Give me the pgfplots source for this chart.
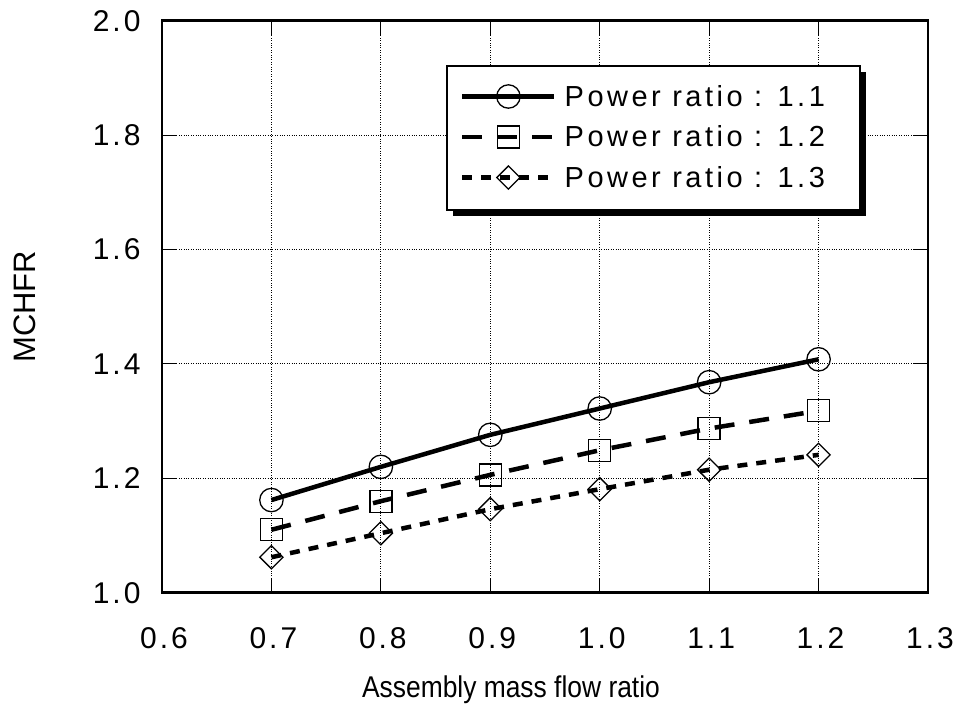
\documentclass[border=0pt]{standalone}
\usepackage{fontspec}
\setmainfont{Liberation Sans}
\newfontfamily\tickfont[LetterSpace=10]{Liberation Sans}
\newfontfamily\legfont[LetterSpace=12]{Liberation Sans}
\newfontfamily\narrowfont[FakeStretch=0.88]{Liberation Sans}
\usepackage{pgfplots}
\pgfplotsset{compat=1.18}
\begin{document}
\begin{tikzpicture}[x=1pt,y=1pt]
\useasboundingbox (-162,-121.3) rectangle (801,592.7);
\begin{axis}[
  at={(0,0)}, anchor=south west,
  scale only axis, width=766pt, height=572pt,
  xmin=0.6, xmax=1.3, ymin=1.0, ymax=2.0,
  xtick={0.6,0.7,0.8,0.9,1.0,1.1,1.2,1.3},
  ytick={1.0,1.2,1.4,1.6,1.8,2.0},
  xticklabels={0.6,0.7,0.8,0.9,1.0,1.1,1.2,1.3},
  yticklabels={1.0,1.2,1.4,1.6,1.8,2.0},
  grid=major,
  major grid style={black, dotted, line width=0.9pt},
  axis line style={line width=2.5pt},
  tick align=inside, major tick length=15pt,
  tick style={black, line width=0.8pt},
  tick label style={font=\fontsize{30}{32}\selectfont\tickfont},
  /pgf/number format/assume math mode=true,
  yticklabel style={xshift=-18pt},
  xticklabel style={yshift=-30pt, xshift=2pt, text height=22pt, text depth=0pt},
  xlabel={Assembly mass flow ratio},
  ylabel={MCHFR},
  xlabel style={font=\fontsize{30}{32}\selectfont\narrowfont, at={(axis description cs:0.4556,-0.170)}, anchor=center},
  ylabel style={font=\fontsize{31}{33}\selectfont, at={(axis description cs:-0.179,0.5)}, anchor=center},
  legend image code/.code={\draw[mark repeat=2,mark phase=2,#1] plot coordinates {(0pt,0pt) (46pt,0pt) (92pt,0pt)};},
  legend style={at={(rel axis cs:0.389,0.891)}, anchor=north west,
    draw=none, fill=none, inner sep=0pt, row sep=14pt,
    font=\fontsize{29}{34}\selectfont\legfont},
  legend cell align=left,
]
% legend frame with its drop shadow
\fill[black] (rel axis cs:0.3801,0.6586) rectangle (rel axis cs:0.9192,0.9103);
\filldraw[fill=white, draw=black, line width=1.8pt] (rel axis cs:0.3721,0.6691) rectangle (rel axis cs:0.9112,0.9208);
\addplot[black, line width=4.5pt, mark=o, mark size=11.7pt,
  mark options={solid, line width=1.3pt, fill=none}]
  coordinates {(0.7,1.162) (0.8,1.220) (0.9,1.276) (1.0,1.322) (1.1,1.368) (1.2,1.408)};
\addlegendentry{\hspace{6pt}Power ratio : 1.1}
\addplot[black, line width=4.5pt, dash pattern=on 20pt off 15pt, mark=square, mark size=11pt,
  mark options={solid, line width=1.3pt, fill=none}]
  coordinates {(0.7,1.110) (0.8,1.160) (0.9,1.206) (1.0,1.249) (1.1,1.287) (1.2,1.318)};
\addlegendentry{\hspace{6pt}Power ratio : 1.2}
\addplot[black, line width=4.5pt, dash pattern=on 10pt off 9pt, mark=square, mark size=8.2pt,
  mark options={solid, rotate=45, line width=1.3pt, fill=none}]
  coordinates {(0.7,1.062) (0.8,1.104) (0.9,1.146) (1.0,1.181) (1.1,1.215) (1.2,1.241)};
\addlegendentry{\hspace{6pt}Power ratio : 1.3}
\end{axis}
\end{tikzpicture}
\end{document}
